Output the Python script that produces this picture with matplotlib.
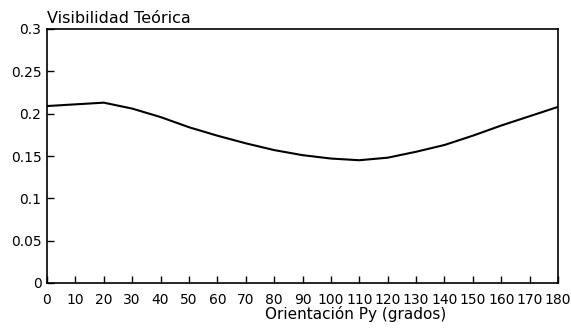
"""
Visibilidad teorica vs orientacion Py
"""

import matplotlib as mpl
import matplotlib.pyplot as plt
import numpy as np

FILE_NAME = 'out.png'

# ========== Data ==========
orientacion = [0, 10, 20, 30, 40, 50, 60, 70, 80, 90,
               100, 110, 120, 130, 140, 150, 160, 170, 180]
visibilidad = [0.209, 0.211, 0.213, 0.206, 0.196, 0.184, 0.174, 0.165, 0.157, 0.151,
               0.147, 0.145, 0.148, 0.155, 0.163, 0.174, 0.186, 0.197, 0.208]

x_ticks = list(range(0, 181, 10))
y_ticks = [0, 0.05, 0.1, 0.15, 0.2, 0.25, 0.3]
y_tick_labels = ['0', '0.05', '0.1', '0.15', '0.2', '0.25', '0.3']

# ========== Plot ==========
linewidth = 1.2

mpl.rcParams['font.family'] = 'DejaVu Sans'
mpl.rcParams['axes.linewidth'] = linewidth

fig = plt.figure(figsize=(5.71, 3.31), dpi=100)
ax = fig.add_axes([47/571, 1 - 283/331, 511/571, 254/331])

ax.plot(orientacion, visibilidad, color='black', linewidth=1.5)

ax.set_xlim(0, 180)
ax.set_ylim(0, 0.3)
ax.set_xticks(x_ticks)
ax.set_xticklabels([str(t) for t in x_ticks])
ax.set_yticks(y_ticks)
ax.set_yticklabels(y_tick_labels)
ax.tick_params(direction='in', length=5, width=1, labelsize=10, colors='black')
ax.tick_params(axis='x', pad=7)
ax.tick_params(axis='y', pad=4)

ax.set_title('Visibilidad Teórica', loc='left', fontsize=11.5, pad=4)
ax.set_xlabel('Orientación Py (grados)', fontsize=11)
ax.xaxis.set_label_coords(0.603, -0.092)

plt.savefig(FILE_NAME, dpi=fig.dpi)
